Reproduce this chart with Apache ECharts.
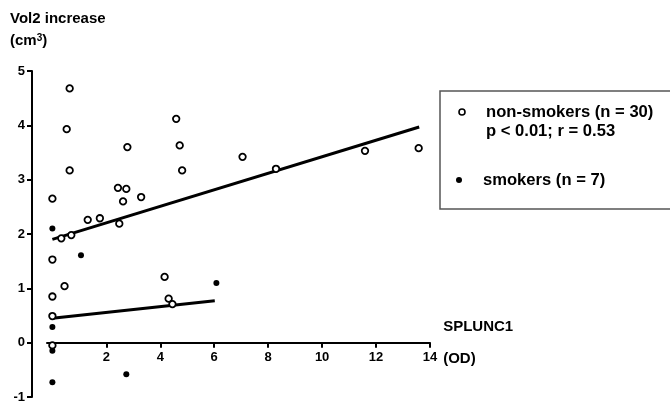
<!DOCTYPE html>
<html>
<head>
<meta charset="utf-8">
<script src="https://cdn.jsdelivr.net/npm/echarts@6/dist/echarts.min.js"></script>
<style>
  html, body { margin: 0; padding: 0; background: #fff; }
  #chart { width: 670px; height: 405px; }
</style>
</head>
<body>
<div id="chart"></div>
<script>
  // values
  var nonSmokersX = [0.64, 0.53, 0.64, 0, 2.78, 4.59, 4.72, 4.81, 2.43, 2.74, 2.62, 3.29, 1.31, 1.76, 2.48,
    0.33, 0.70, 0, 0.45, 0, 0, 0, 4.16, 4.31, 4.45, 7.05, 8.29, 11.59, 13.58];
  var nonSmokersY = [4.68, 3.93, 3.17, 2.65, 3.60, 4.12, 3.63, 3.17, 2.85, 2.83, 2.60, 2.68, 2.26, 2.29, 2.19,
    1.92, 1.98, 1.53, 1.04, 0.85, 0.49, -0.05, 1.21, 0.81, 0.71, 3.42, 3.20, 3.53, 3.58];
  var smokersX = [0, 1.06, 0, 0, 0, 2.74, 6.08];
  var smokersY = [2.10, 1.61, 0.29, -0.15, -0.73, -0.58, 1.10];

  // regression lines (end points)
  var fitNonSmokersX = [0, 13.6];
  var fitNonSmokersY = [1.90, 3.97];
  var fitSmokersX = [0, 6.02];
  var fitSmokersY = [0.45, 0.77];

  var xTicks = [2, 4, 6, 8, 10, 12, 14];
  var yMin = -1, yMax = 5;

  function pairs(xs, ys) {
    return xs.map(function (x, i) { return [x, ys[i]]; });
  }

  var font = 'Liberation Sans, Arial, sans-serif';
  var gridTop = 71, gridBottom = 8;
  var plotH = 405 - gridTop - gridBottom;
  // x axis sits on y = 0, so lift it up from the bottom of the grid
  var xAxisLift = plotH * (0 - yMin) / (yMax - yMin);

  var chart = echarts.init(document.getElementById('chart'));
  chart.setOption({
    animation: false,
    backgroundColor: '#fff',
    textStyle: { fontFamily: font },
    title: {
      text: 'Vol2 increase\n(cm{sup|3})',
      left: 5,
      top: 3,
      textStyle: {
        fontFamily: font, fontSize: 15, fontWeight: 'bold', color: '#000', lineHeight: 22,
        rich: {
          sup: { fontFamily: font, fontSize: 10, fontWeight: 'bold', color: '#000', lineHeight: 10, verticalAlign: 'top', padding: [3, 0, 0, 0] }
        }
      }
    },
    grid: { left: 47, right: 240, top: gridTop, bottom: gridBottom, outerBoundsMode: 'none' },
    xAxis: {
      type: 'value',
      min: -0.2,
      max: 14,
      position: 'bottom',
      offset: -xAxisLift,
      name: 'SPLUNC1\n(OD)',
      nameLocation: 'end',
      nameGap: 8,
      nameTextStyle: {
        fontFamily: font, fontSize: 15, fontWeight: 'bold', color: '#000',
        lineHeight: 32, align: 'left', verticalAlign: 'middle'
      },
      axisLine: { onZero: false, lineStyle: { color: '#000', width: 2 } },
      axisTick: { show: true, length: 5, lineStyle: { color: '#000', width: 2 }, customValues: xTicks },
      axisLabel: { fontFamily: font, fontSize: 13, fontWeight: 'bold', color: '#000', margin: 8, customValues: xTicks },
      splitLine: { show: false }
    },
    yAxis: {
      type: 'value',
      min: yMin,
      max: yMax,
      interval: 1,
      offset: 15,
      axisLine: { show: true, onZero: false, lineStyle: { color: '#000', width: 2 } },
      axisTick: { show: true, length: 5, lineStyle: { color: '#000', width: 2 } },
      axisLabel: { fontFamily: font, fontSize: 13, fontWeight: 'bold', color: '#000', margin: 7 },
      splitLine: { show: false }
    },
    series: [
      {
        name: 'fit non-smokers',
        type: 'line',
        data: pairs(fitNonSmokersX, fitNonSmokersY),
        symbol: 'none',
        lineStyle: { color: '#000', width: 3 },
        z: 2
      },
      {
        name: 'fit smokers',
        type: 'line',
        data: pairs(fitSmokersX, fitSmokersY),
        symbol: 'none',
        lineStyle: { color: '#000', width: 3 },
        z: 2
      },
      {
        name: 'non-smokers (n = 30)',
        type: 'scatter',
        data: pairs(nonSmokersX, nonSmokersY),
        symbol: 'circle',
        symbolSize: 6.5,
        itemStyle: { color: '#fff', borderColor: '#000', borderWidth: 1.8, opacity: 1 },
        z: 3
      },
      {
        name: 'smokers (n = 7)',
        type: 'scatter',
        data: pairs(smokersX, smokersY),
        symbol: 'circle',
        symbolSize: 6,
        itemStyle: { color: '#000', opacity: 1 },
        z: 4
      }
    ],
    graphic: [
      {
        type: 'rect',
        shape: { x: 440, y: 91, width: 260, height: 118 },
        style: { fill: 'none', stroke: '#555', lineWidth: 1.5 }
      },
      {
        type: 'circle',
        shape: { cx: 462, cy: 112, r: 3 },
        style: { fill: '#fff', stroke: '#000', lineWidth: 1.6 }
      },
      {
        type: 'text',
        x: 486, y: 112,
        style: { text: 'non-smokers (n = 30)', fill: '#000', font: 'bold 16.6px ' + font, verticalAlign: 'middle' }
      },
      {
        type: 'text',
        x: 486, y: 131,
        style: { text: 'p < 0.01; r = 0.53', fill: '#000', font: 'bold 16.6px ' + font, verticalAlign: 'middle' }
      },
      {
        type: 'circle',
        shape: { cx: 459, cy: 180, r: 3 },
        style: { fill: '#000' }
      },
      {
        type: 'text',
        x: 483, y: 180,
        style: { text: 'smokers (n = 7)', fill: '#000', font: 'bold 16.6px ' + font, verticalAlign: 'middle' }
      }
    ]
  });
</script>
</body>
</html>
